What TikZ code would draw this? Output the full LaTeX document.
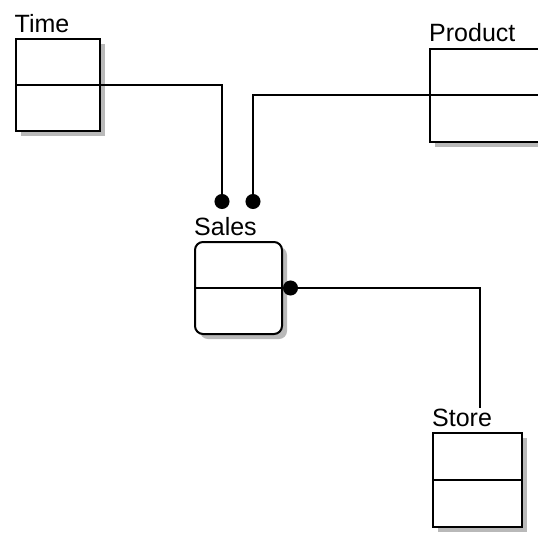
\documentclass[tikz,border=0pt]{standalone}
\usepackage{fontspec}
\setmainfont{Liberation Sans}
\usetikzlibrary{arrows.meta, shadows}
\tikzset{entity/.style={draw, line width=2pt, fill=white, minimum width=86pt, minimum height=92pt,
                        drop shadow={shadow xshift=5pt, shadow yshift=-5pt, fill=gray!55, opacity=1},
                        path picture={\draw[line width=2pt] (path picture bounding box.west)--(path picture bounding box.east);}},
         title/.style={anchor=base west, inner sep=0pt, label distance=0pt, yshift=6pt, font=\fontsize{25}{29}\selectfont},
         link/.style={line width=2pt},
         joint/.tip={Circle[length=15pt]},
        }

\begin{document}
\begin{tikzpicture}[x=1pt, y=-1pt]
        \clip(0,0)rectangle(538,533);
        \fill[white](0,0)rectangle(538,533);

        \node[entity, minimum width=84pt, label={[title]north west:Time}](time)at(57.5,85){};
        \node[entity, minimum width=120pt, minimum height=93pt, label={[title]north west:Product}](product)at(490,95){};
        \node[entity, rounded corners=8pt, minimum width=87pt, label={[title]north west:Sales}](sales)at(238.5,288){};
        \node[entity, minimum width=89pt, minimum height=94pt, label={[title]north west:Store}](store)at(477.5,480){};

        \coordinate(salesT)at(222,209);
        \coordinate(salesP)at(253,209);
        \coordinate(storeT)at(480,408);

        \draw[link, -joint](time.east)-|(salesT);
        \draw[link, -joint](product.west)-|(salesP);
        \draw[link, joint-](sales.east)-|(storeT);
    \end{tikzpicture}
\end{document}
